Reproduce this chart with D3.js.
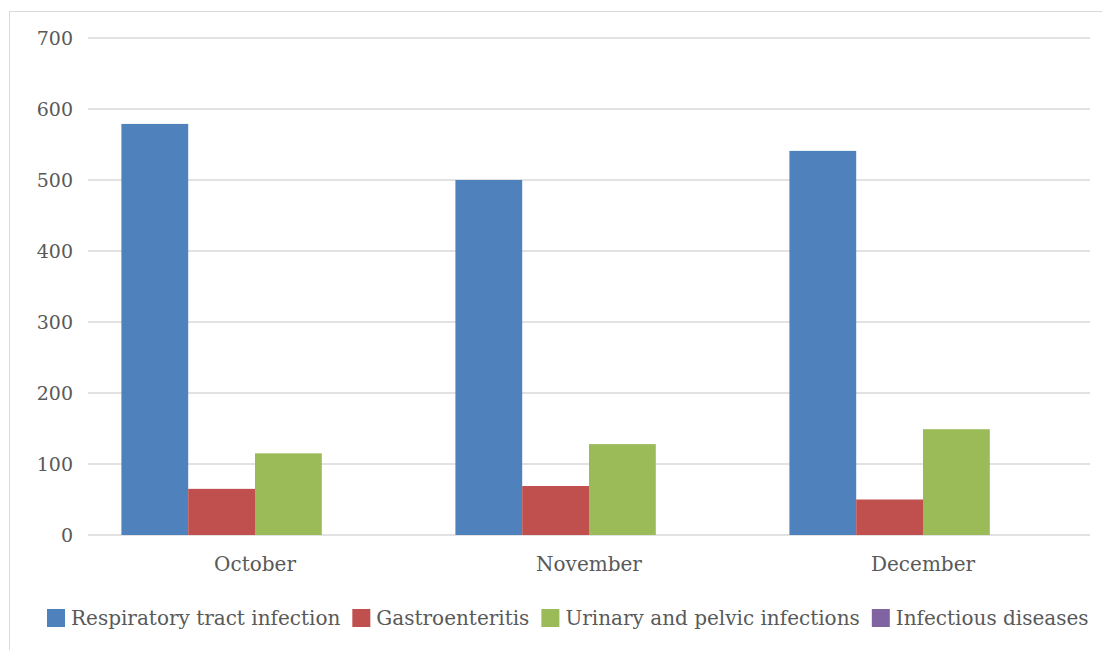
<!DOCTYPE html>
<html>
<head>
<meta charset="utf-8">
<script src="https://cdn.jsdelivr.net/npm/d3@7"></script>
<style>
  html, body { margin: 0; padding: 0; background: #fff; }
  svg { display: block; }
  text { font-family: "DejaVu Serif", "Liberation Serif", serif; fill: #595959; }
</style>
</head>
<body>
<svg id="chart" width="1102" height="650"></svg>
<script>
// Monthly case counts by infection group
const months = ["October", "November", "December"];
const seriesNames = [
  "Respiratory tract infection",
  "Gastroenteritis",
  "Urinary and pelvic infections",
  "Infectious diseases"
];
const respiratory = [579, 500, 541];
const gastro = [65, 69, 50];
const urinary = [115, 128, 149];
const infectious = [0, 0, 0];
const yTicks = [0, 100, 200, 300, 400, 500, 600, 700];

const seriesValues = [respiratory, gastro, urinary, infectious];
const colors = ["#4f81bd", "#c0504d", "#9bbb59", "#8064a2"];

const svg = d3.select("#chart");
const W = 1102, H = 650;
const plot = { left: 88, right: 1090, top: 38, bottom: 535 };

// Outer chart border
svg.append("rect")
  .attr("x", 9.5).attr("y", 11.5)
  .attr("width", W + 10).attr("height", H + 10)
  .attr("fill", "none").attr("stroke", "#d9d9d9").attr("stroke-width", 1);

const x0 = d3.scaleBand().domain(months).range([plot.left, plot.right]).padding(0);
const x1 = d3.scaleBand().domain(seriesNames).range([0, x0.bandwidth()])
  .paddingInner(0).paddingOuter(0.5);
const y = d3.scaleLinear().domain([0, 700]).range([plot.bottom, plot.top]);

// Horizontal gridlines
svg.append("g").selectAll("line").data(yTicks).join("line")
  .attr("x1", plot.left).attr("x2", plot.right)
  .attr("y1", d => y(d)).attr("y2", d => y(d))
  .attr("stroke", "#d9d9d9").attr("stroke-width", 1.5);

// Y axis labels
const yAxis = d3.axisLeft(y).tickValues(yTicks).tickSize(0).tickPadding(0);
const gy = svg.append("g").attr("transform", "translate(73,0)").call(yAxis);
gy.select(".domain").remove();
gy.selectAll("text")
  .attr("font-family", "DejaVu Serif")
  .attr("font-size", 19).attr("fill", "#595959");

// Bars
const rows = months.map((m, i) => ({
  month: m,
  values: seriesNames.map((s, j) => ({ series: s, value: seriesValues[j][i], color: colors[j] }))
}));

const groups = svg.append("g").selectAll("g").data(rows).join("g")
  .attr("transform", d => `translate(${x0(d.month)},0)`);

groups.selectAll("rect").data(d => d.values).join("rect")
  .attr("x", d => x1(d.series))
  .attr("width", x1.bandwidth())
  .attr("y", d => y(d.value))
  .attr("height", d => y(0) - y(d.value))
  .attr("fill", d => d.color);

// Category labels
const xAxis = d3.axisBottom(x0).tickSize(0).tickPadding(0);
const gx = svg.append("g").attr("transform", `translate(0,${plot.bottom})`).call(xAxis);
gx.select(".domain").remove();
gx.selectAll("text")
  .attr("font-family", "DejaVu Serif")
  .attr("font-size", 20).attr("fill", "#595959")
  .attr("dy", null).attr("y", 36);

// Legend
const legend = svg.append("g").attr("transform", "translate(47,0)");
let lx = 0;
seriesNames.forEach((name, i) => {
  const item = legend.append("g").attr("transform", `translate(${lx},0)`);
  item.append("rect")
    .attr("x", 0).attr("y", 609).attr("width", 18).attr("height", 18)
    .attr("fill", colors[i]);
  const t = item.append("text")
    .attr("x", 24).attr("y", 625)
    .attr("font-size", 20)
    .text(name);
  lx += 24 + t.node().getComputedTextLength() + 12;
});
</script>
</body>
</html>
